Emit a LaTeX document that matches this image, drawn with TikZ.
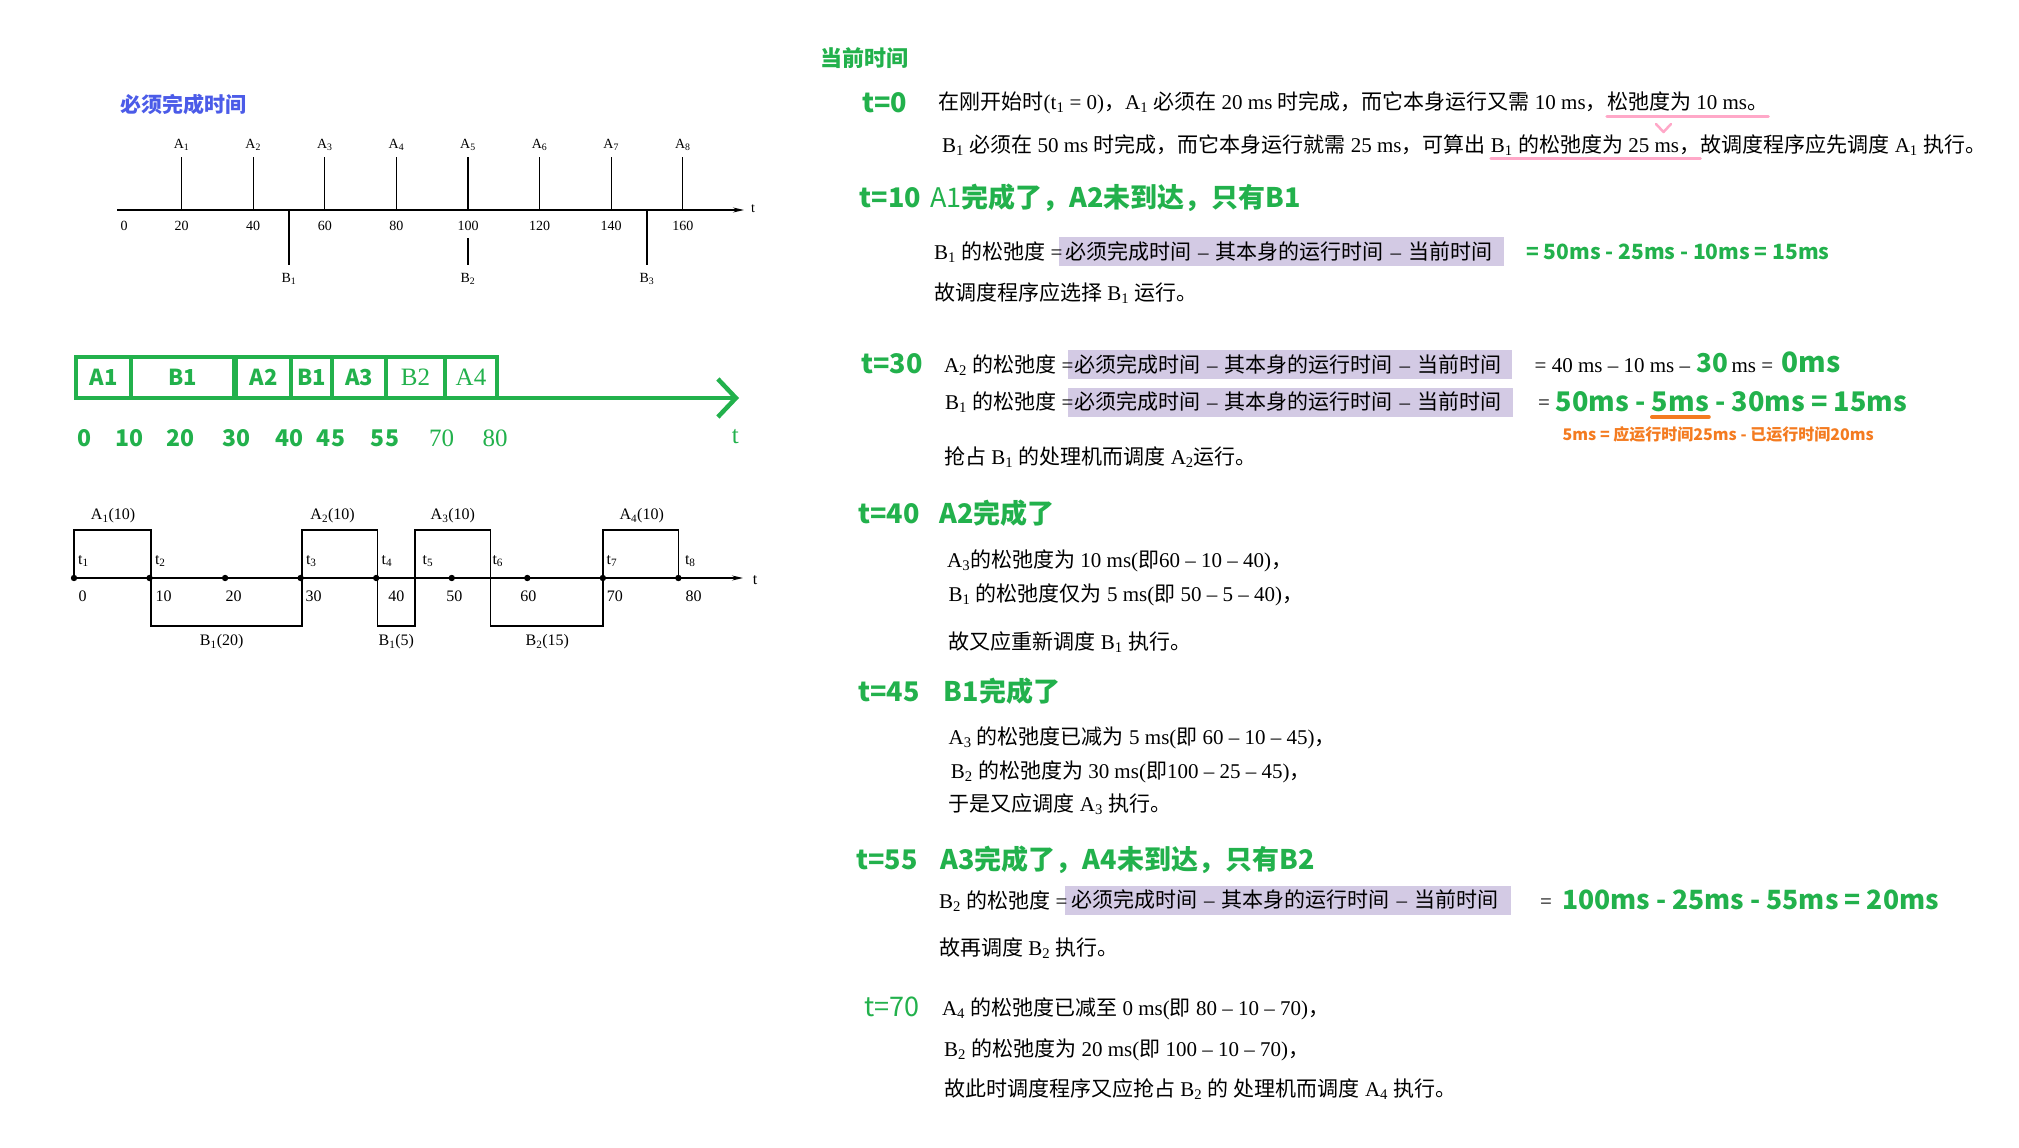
\documentclass[tikz,border=0pt]{standalone}
\usepackage{fontspec}
\setmainfont{Liberation Serif}
\newfontfamily\cjk{Noto Sans CJK SC}
\usepackage{xcolor}
\usepackage{tikz}
\usetikzlibrary{positioning, arrows.meta, calc}
\definecolor{markgreen}{HTML}{22B14C}
\definecolor{titleblue}{HTML}{4B5BE8}
\definecolor{slackpurple}{HTML}{D3CAE4}
\definecolor{notepink}{HTML}{FFA8C8}
\definecolor{noteorange}{HTML}{F47B20}
\newcommand{\zh}[1]{{\cjk #1}}
\newcommand{\subn}[1]{\textsubscript{#1}}
\newcommand{\bodysize}{\fontsize{21}{24}\selectfont}

\tikzset{
  body/.style={anchor=base west, inner sep=0pt, font=\bodysize},
  head/.style={anchor=west, inner sep=0pt, text=markgreen, font=\cjk\bfseries\fontsize{27}{30}\selectfont},
  result/.style={anchor=west, inner sep=0pt, text=markgreen, font=\cjk\bfseries\fontsize{27}{30}\selectfont},
  slack/.style={anchor=west, fill=slackpurple, inner xsep=6pt, inner ysep=0pt, minimum height=29pt, align=left, font=\bodysize},
  cell/.style={draw=markgreen, line width=4pt, outer sep=0pt, minimum height=41pt, inner sep=0pt, text=markgreen},
  cellbold/.style={cell, font=\cjk\bfseries\fontsize{22}{24}\selectfont},
  cellthin/.style={cell, font=\fontsize{25}{27}\selectfont},
  gnum/.style={inner sep=0pt, text=markgreen, font=\cjk\bfseries\fontsize{23}{25}\selectfont},
  gserif/.style={inner sep=0pt, text=markgreen, font=\fontsize{25}{27}\selectfont},
  scan/.style={inner sep=0pt, font=\fontsize{14}{16}\selectfont},
  wave/.style={inner sep=0pt, font=\fontsize{16}{18}\selectfont},
  scanline/.style={line width=1.2pt},
  underpink/.style={draw=notepink, line width=3pt, line cap=round},
}

\begin{document}
\begin{tikzpicture}[x=1pt, y=-1pt]
  \fill[white] (0,0) rectangle (2019,1148);
  \useasboundingbox (0,0) rectangle (2019,1148);

  % deadlines
  \node[inner sep=0pt, text=titleblue, font=\cjk\bfseries\fontsize{21}{24}\selectfont] (deadline) at (183,104) {必须完成时间};
  \coordinate (ax0) at (117,210);
  \coordinate (ax1) at (744,210);
  \draw[scanline, -{Stealth[length=11pt,width=5pt]}] (ax0) -- (ax1);
  \node[scan] (axt) at (753,209) {t};
  \node[scan] (n0) at (124,226) {0};
  \foreach \i in {1,...,8} {
    \pgfmathsetmacro\xa{110+71.6*\i}
    \pgfmathtruncatemacro\tv{20*\i}
    \draw[scanline] (\xa,157) -- (\xa,210);
    \node[scan] (a\i) at (\xa,145) {A\subn{\i}};
    \node[scan] (n\i) at (\xa,226) {\tv};
  }
  \foreach \j/\ya in {1/210, 2/238, 3/210} {
    \pgfmathsetmacro\xb{110+179*\j}
    \draw[scanline] (\xb,\ya) -- (\xb,265);
    \node[scan] (b\j) at (\xb,279) {B\subn{\j}};
  }

  % schedule bar
  \node[cellbold, minimum width=55pt] (c1) at (103.5,377.5) {A1};
  \node[cellbold, minimum width=103pt] (c2) at (182.5,377.5) {B1};
  \node[cellbold, minimum width=55pt] (c3) at (263.5,377.5) {A2};
  \node[cellbold, minimum width=41pt] (c4) at (311.5,377.5) {B1};
  \node[cellbold, minimum width=54pt] (c5) at (359,377.5) {A3};
  \node[cellthin, minimum width=59pt] (c6) at (415.5,377.5) {B2};
  \node[cellthin, minimum width=52pt] (c7) at (471,377.5) {A4};
  \coordinate (gtip) at (739,398);
  \draw[draw=markgreen, line width=4.5pt, -{Straight Barb[length=18pt,width=38pt]}] (c7.south east) -- (gtip);
  \foreach \x/\v in {84.6/0, 129.2/10, 180.5/20, 236.3/30, 289.9/40, 331/45, 385/55}
    \node[gnum] (g\v) at (\x,438) {\v};
  \foreach \x/\v in {441.7/70, 495.2/80}
    \node[gserif] (g\v) at (\x,438) {\v};
  \node[gserif] (gt) at (735.4,436.7) {t};

  % run order
  \coordinate (wx0) at (74,578);
  \coordinate (wx1) at (743,578);
  \draw[scanline, -{Stealth[length=11pt,width=5pt]}] (wx0) -- (wx1);
  \node[wave] (wt) at (755,580) {t};
  \draw[line width=1.8pt] (74,578) |- (150.9,530) |- (301.9,626) |- (377.4,530) |- (415,626)
    |- (490.5,530) |- (602.9,626) |- (678.4,530) -- (678.4,578);
  \foreach \t in {0,10,...,80}
    \fill ({74+7.555*\t},578) circle[radius=3.2pt];
  \foreach \x/\v in {82.5/0, 163.6/10, 233.5/20, 313.7/30, 396.3/40, 454.3/50, 528.4/60, 614.8/70, 693.6/80}
    \node[wave] (w\v) at (\x,596) {\v};
  \foreach \x [count=\k] in {83.4, 160.3, 311.3, 386.9, 427.9, 497.8, 612, 690.3}
    \node[wave] (tl\k) at (\x,561) {t\subn{\k}};
  \node[wave] (wa1) at (113.1,516) {A\subn{1}(10)};
  \node[wave] (wa2) at (332.6,516) {A\subn{2}(10)};
  \node[wave] (wa3) at (452.9,516) {A\subn{3}(10)};
  \node[wave] (wa4) at (641.7,516) {A\subn{4}(10)};
  \node[wave] (wb1) at (221.7,642) {B\subn{1}(20)};
  \node[wave] (wb2) at (396.3,642) {B\subn{1}(5)};
  \node[wave] (wb3) at (547.3,642) {B\subn{2}(15)};

  % current time
  \node[head, font=\cjk\bfseries\fontsize{22}{24}\selectfont] (now) at (820,58) {当前时间};

  \node[head] (h0) at (862,102.7) {t=0};
  \node[body] (t0a) at (938.5,109.5) {\zh{在刚开始时}(t\subn{1} = 0)\zh{，}A\subn{1} \zh{必须在} 20 ms \zh{时完成，而它本身运行又需} 10 ms\zh{，}};
  \node[body] (t0b) at (t0a.base east) {\zh{松弛度为} 10 ms\zh{。}};
  \draw[underpink] ($(t0b.base west)+(0,6.5)$) -- ($(t0b.base east)+(0,6.5)$);
  \node[body] (t0c) at (942,152.5) {B\subn{1} \zh{必须在} 50 ms \zh{时完成，而它本身运行就需} 25 ms\zh{，可算出} };
  \node[body] (t0d) at ([xshift=5pt]t0c.base east) {B\subn{1} \zh{的松弛度为} 25 ms\zh{，}};
  \node[body] (t0e) at (t0d.base east) {\zh{故调度程序应先调度} A\subn{1} \zh{执行。}};
  \draw[underpink] ($(t0d.base west)+(0,6)$) -- ($(t0d.base east)+(0,6)$);
  \draw[draw=notepink, line width=2.5pt, line cap=round, line join=round] (1656,124) -- (1663.5,132) -- (1671,124);

  \node[head] (h10) at (859.5,198) {t=10\hspace{9pt}{\mdseries A1}完成了，A2未到达，只有B1};
  \node[slack, text width=433pt] (s10) at (1059,251.5) {\zh{必须完成时间} -- \zh{其本身的运行时间} -- \zh{当前时间}};
  \node[body] (b10) at (934,259.5) {B\subn{1} \zh{的松弛度} =};
  \node[result, font=\cjk\bfseries\fontsize{21}{24}\selectfont] (r10) at (1526,251.5) {= 50ms - 25ms - 10ms = 15ms};
  \node[body] (c10) at (934,300) {\zh{故调度程序应选择} B\subn{1} \zh{运行。}};

  \node[head] (h30) at (861,363.3) {t=30};
  \node[slack, text width=432pt] (s30a) at (1068,364.5) {\zh{必须完成时间} -- \zh{其本身的运行时间} -- \zh{当前时间}};
  \node[body] (a30) at (943.8,372.3) {A\subn{2} \zh{的松弛度} =};
  \node[body] (a30r) at (1534.5,372.3) {= 40 ms -- 10 ms --};
  \node[result, anchor=base west, font=\cjk\bfseries\fontsize{26}{28}\selectfont] (a30g) at ([xshift=6pt]a30r.base east) {30};
  \node[body] (a30m) at ([xshift=3pt]a30g.base east) {ms =};
  \node[result, anchor=base west, font=\cjk\bfseries\fontsize{28}{30}\selectfont] (a30z) at ([xshift=8pt]a30m.base east) {0ms};
  \node[slack, text width=433pt] (s30b) at (1068,402) {\zh{必须完成时间} -- \zh{其本身的运行时间} -- \zh{当前时间}};
  \node[body] (b30) at (945,409.7) {B\subn{1} \zh{的松弛度} =};
  \node[body] (b30e) at (1538,409.7) {=};
  \node[result, anchor=base west] (b30g1) at (1555.6,411) {50ms -};
  \node[result, anchor=base west] (b30g2) at ([xshift=6pt]b30g1.base east) {5ms};
  \node[result, anchor=base west] (b30g3) at ([xshift=6pt]b30g2.base east) {- 30ms = 15ms};
  \draw[draw=noteorange, line width=3.5pt, line cap=round] ($(b30g2.base west)+(0,6)$) -- ($(b30g2.base east)+(0,6)$);
  \node[anchor=west, inner sep=0pt, text=noteorange, font=\cjk\bfseries\fontsize{16}{18}\selectfont] (n30) at (1562.5,434) {5ms = 应运行时间25ms - 已运行时间20ms};
  \node[body] (c30) at (944,464) {\zh{抢占} B\subn{1} \zh{的处理机而调度} A\subn{2}\zh{运行。}};

  \node[head] (h40) at (858,513.3) {t=40};
  \node[head] (h40b) at (939,513.3) {A2完成了};
  \node[body] (a40) at (947,567) {A\subn{3}\zh{的松弛度为} 10 ms(\zh{即}60 -- 10 -- 40)\zh{，}};
  \node[body] (b40) at (948.5,601.3) {B\subn{1} \zh{的松弛度仅为} 5 ms(\zh{即} 50 -- 5 -- 40)\zh{，}};
  \node[body] (c40) at (948.5,649.7) {\zh{故又应重新调度} B\subn{1} \zh{执行。}};

  \node[head] (h45) at (858,691.7) {t=45};
  \node[head] (h45b) at (943.6,691.7) {B1完成了};
  \node[body] (a45) at (948.5,744) {A\subn{3} \zh{的松弛度已减为} 5 ms(\zh{即} 60 -- 10 -- 45)\zh{，}};
  \node[body] (b45) at (950.7,778) {B\subn{2} \zh{的松弛度为} 30 ms(\zh{即}100 -- 25 -- 45)\zh{，}};
  \node[body] (c45) at (948.5,811.3) {\zh{于是又应调度} A\subn{3} \zh{执行。}};

  \node[head] (h55) at (856,860) {t=55};
  \node[head] (h55b) at (940.5,860) {A3完成了，A4未到达，只有B2};
  \node[slack, text width=434pt] (s55) at (1065,900) {\zh{必须完成时间} -- \zh{其本身的运行时间} -- \zh{当前时间}};
  \node[body] (b55) at (939,908) {B\subn{2} \zh{的松弛度} =};
  \node[body] (b55e) at (1540,908) {=};
  \node[result, font=\cjk\bfseries\fontsize{26.5}{29}\selectfont] (r55) at (1562,900) {100ms - 25ms - 55ms = 20ms};
  \node[body] (c55) at (939,955.3) {\zh{故再调度} B\subn{2} \zh{执行。}};

  \node[head, font=\cjk\fontsize{27}{30}\selectfont] (h70) at (864.6,1007.3) {t=70};
  \node[body] (a70) at (941.8,1015.3) {A\subn{4} \zh{的松弛度已减至} 0 ms(\zh{即} 80 -- 10 -- 70)\zh{，}};
  \node[body] (b70) at (944,1056.3) {B\subn{2} \zh{的松弛度为} 20 ms(\zh{即} 100 -- 10 -- 70)\zh{，}};
  \node[body] (c70) at (944,1096.3) {\zh{故此时调度程序又应抢占} B\subn{2} \zh{的} \zh{处理机而调度} A\subn{4} \zh{执行。}};
\end{tikzpicture}
\end{document}
